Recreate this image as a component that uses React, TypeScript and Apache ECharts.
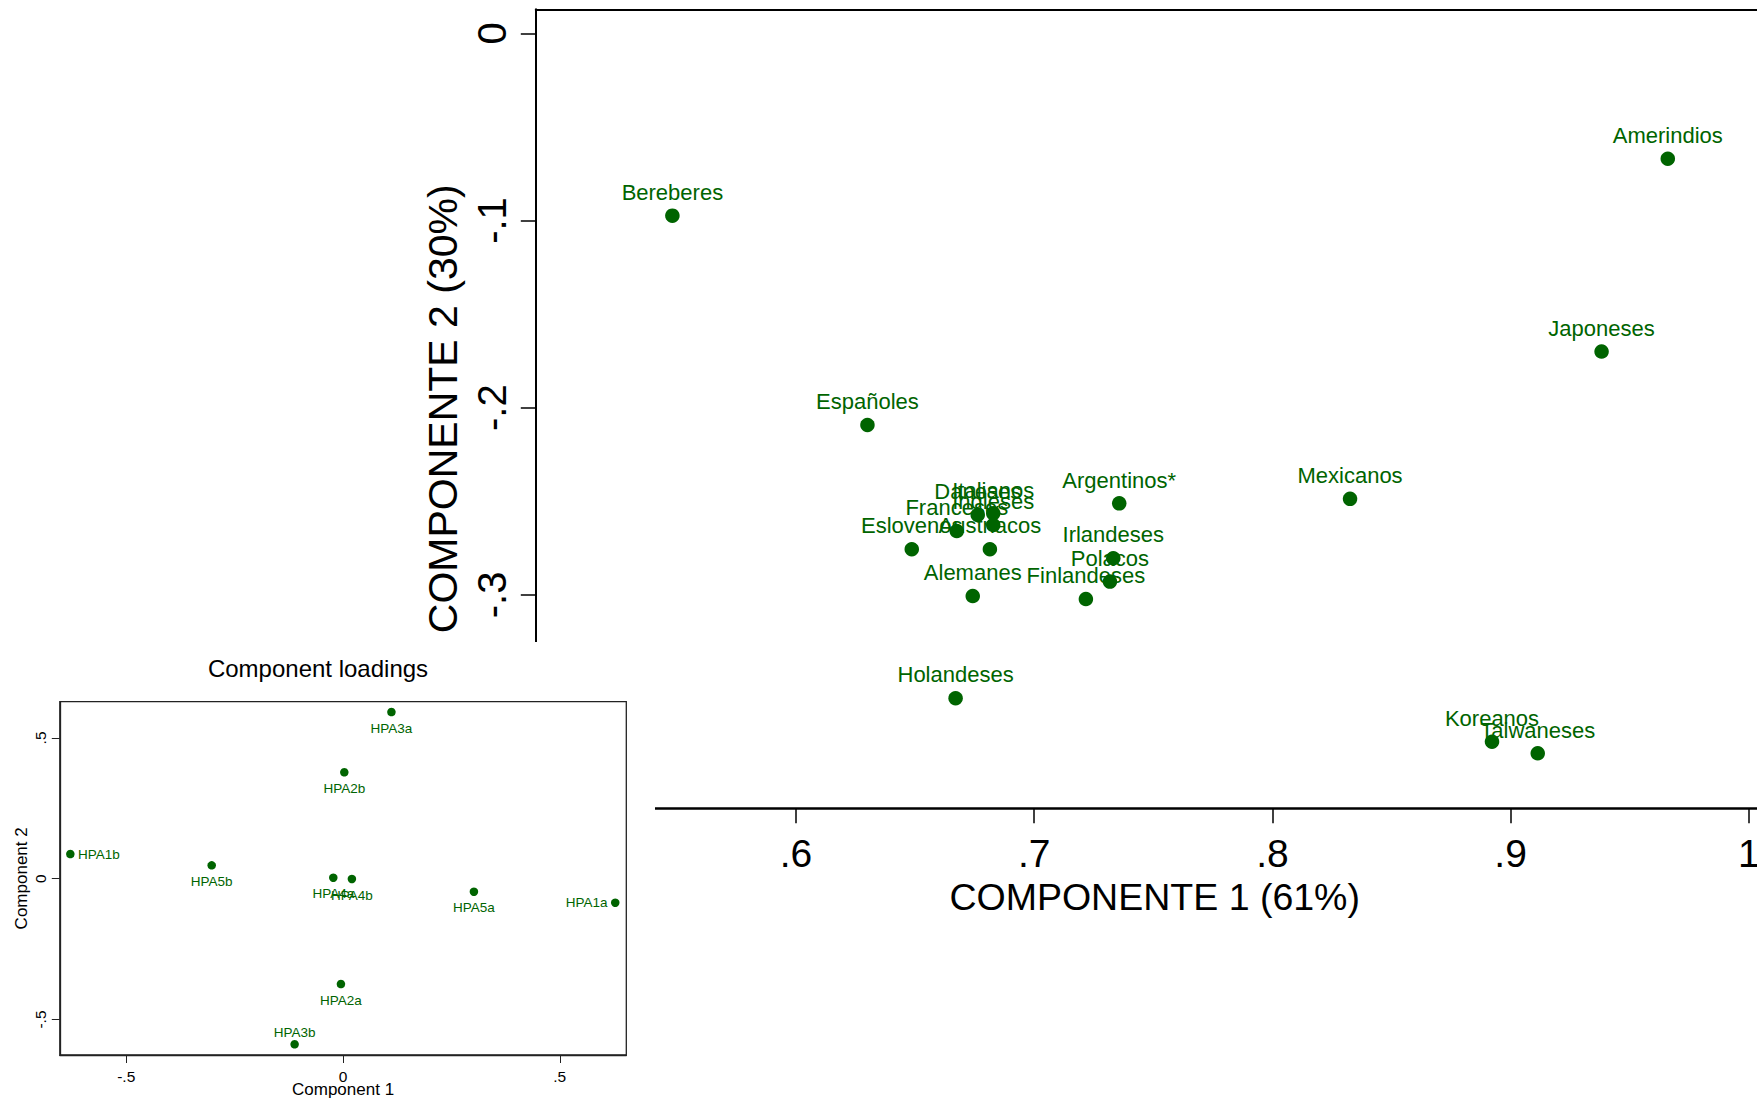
import React, { useEffect, useRef } from "react";
import * as echarts from "echarts";

// ---- Main chart data (PCA scores) ----
const countries = [
  "Bereberes", "Españoles", "Argentinos*", "Daneses", "Italianos", "Franceses",
  "Ingleses", "Eslovenos", "Austriacos", "Alemanes", "Finlandeses", "Irlandeses",
  "Polacos", "Holandeses", "Mexicanos", "Japoneses", "Amerindios", "Koreanos", "Taiwaneses",
];
const comp1 = [
  0.5481, 0.63, 0.7357, 0.6763, 0.6828, 0.6675,
  0.6828, 0.6486, 0.6814, 0.6742, 0.7217, 0.7332,
  0.7318, 0.667, 0.8326, 0.9382, 0.966, 0.8922, 0.9114,
];
const comp2 = [
  -0.0974, -0.2092, -0.2511, -0.2573, -0.2564, -0.2659,
  -0.2627, -0.2756, -0.2756, -0.3006, -0.3022, -0.2804,
  -0.2929, -0.3552, -0.2487, -0.17, -0.067, -0.3784, -0.3846,
];
const xTickValues = [0.6, 0.7, 0.8, 0.9, 1];
const xTickLabels = [".6", ".7", ".8", ".9", "1"];
const yTickValues = [0, -0.1, -0.2, -0.3];
const yTickLabels = ["0", "-.1", "-.2", "-.3"];

// ---- Inset data (component loadings) ----
const loadingNames = ["HPA1a", "HPA1b", "HPA2a", "HPA2b", "HPA3a", "HPA3b", "HPA4a", "HPA4b", "HPA5a", "HPA5b"];
const loading1 = [0.628, -0.629, -0.0048, 0.003, 0.1117, -0.1116, -0.0224, 0.0205, 0.302, -0.3029];
const loading2 = [-0.0852, 0.0877, -0.374, 0.378, 0.592, -0.588, 0.0036, -0.001, -0.0462, 0.0476];
const loadTickValues = [-0.5, 0, 0.5];
const loadTickLabels = ["-.5", "0", ".5"];

// label placement per loading (style)
const loadingLabelPlacement: Record<string, string> = {
  HPA1a: "left", HPA1b: "right", HPA3b: "top",
};

const GREEN = "#006400";
const FONT = "'Liberation Sans', Arial, Helvetica, sans-serif";

const fmt = (vals: number[], labels: string[]) => (v: number) => {
  const i = vals.findIndex((t) => Math.abs(t - v) < 1e-9);
  return i >= 0 ? labels[i] : "";
};

export default function App() {
  const mainRef = useRef<HTMLDivElement>(null);
  const insetRef = useRef<HTMLDivElement>(null);

  useEffect(() => {
    document.body.style.margin = "0";
    const main = echarts.init(mainRef.current!, null, { renderer: "svg" });
    const inset = echarts.init(insetRef.current!, null, { renderer: "svg" });

    main.setOption({
      animation: false,
      grid: { left: 535.8, top: 9.3, bottom: 291.7, right: -16.6, outerBoundsMode: "none", containLabel: false },
      xAxis: [
        {
          type: "value",
          min: 0.49076,
          max: 1.01042,
          position: "bottom",
          name: "COMPONENTE 1 (61%)",
          nameLocation: "middle",
          nameGap: 68,
          nameTextStyle: { color: "#000", fontSize: 37.5, fontFamily: FONT },
          axisLine: { show: true, onZero: false, lineStyle: { color: "#000", width: 2.5 } },
          axisTick: { show: true, length: 15, customValues: xTickValues, lineStyle: { color: "#000", width: 1.5 } },
          axisLabel: {
            customValues: xTickValues,
            formatter: fmt(xTickValues, xTickLabels),
            margin: 26,
            color: "#000",
            fontSize: 39,
            fontFamily: FONT,
          },
          splitLine: { show: false },
        },
        {
          type: "value",
          min: 0.49076,
          max: 1.01042,
          position: "top",
          axisLine: { show: true, onZero: false, lineStyle: { color: "#000", width: 2 } },
          axisTick: { show: false },
          axisLabel: { show: false },
          splitLine: { show: false },
        },
      ],
      yAxis: {
        type: "value",
        min: -0.414,
        max: 0.01282,
        name: "COMPONENTE 2 (30%)",
        nameLocation: "middle",
        nameGap: 67,
        nameTextStyle: { color: "#000", fontSize: 41, fontFamily: FONT },
        axisLine: { show: true, onZero: false, lineStyle: { color: "#000", width: 2 } },
        axisTick: { show: true, length: 15, customValues: yTickValues, lineStyle: { color: "#000", width: 1.5 } },
        axisLabel: {
          customValues: yTickValues,
          formatter: fmt(yTickValues, yTickLabels),
          rotate: 90,
          margin: 24,
          color: "#000",
          fontSize: 40,
          fontFamily: FONT,
        },
        splitLine: { show: false },
      },
      series: [
        {
          type: "scatter",
          xAxisIndex: 0,
          symbol: "circle",
          symbolSize: 14.5,
          itemStyle: { color: GREEN, opacity: 1 },
          label: {
            show: true,
            formatter: "{b}",
            position: "top",
            distance: 5,
            color: GREEN,
            fontSize: 22,
            fontFamily: FONT,
          },
          data: countries.map((n, i) => ({ name: n, value: [comp1[i], comp2[i]] })),
        },
      ],
    });

    inset.setOption({
      animation: false,
      graphic: [
        {
          type: "text",
          x: 318,
          y: 26,
          style: {
            text: "Component loadings",
            fill: "#000",
            font: `24px ${FONT}`,
            align: "center",
            verticalAlign: "middle",
          },
        },
      ],
      grid: {
        left: 59.8, top: 59.7, right: 28.7, bottom: 45,
        show: true, borderColor: "#222", borderWidth: 1.3, backgroundColor: "#fff",
        outerBoundsMode: "none", containLabel: false,
      },
      xAxis: {
        type: "value",
        min: -0.6533,
        max: 0.6535,
        name: "Component 1",
        nameLocation: "middle",
        nameGap: 26,
        nameMoveOverlap: false,
        nameTextStyle: { color: "#000", fontSize: 17, fontFamily: FONT },
        axisLine: { show: true, onZero: false, lineStyle: { color: "#222", width: 1.3 } },
        axisTick: { show: true, length: 8, customValues: loadTickValues, lineStyle: { color: "#222" } },
        axisLabel: {
          customValues: loadTickValues,
          formatter: fmt(loadTickValues, loadTickLabels),
          margin: 13,
          color: "#000",
          fontSize: 15.5,
          fontFamily: FONT,
        },
        splitLine: { show: false },
      },
      yAxis: {
        type: "value",
        min: -0.626,
        max: 0.6286,
        name: "Component 2",
        nameLocation: "middle",
        nameGap: 30,
        nameMoveOverlap: false,
        nameTextStyle: { color: "#000", fontSize: 17, fontFamily: FONT },
        axisLine: { show: true, onZero: false, lineStyle: { color: "#222", width: 1.3 } },
        axisTick: { show: true, length: 8, customValues: loadTickValues, lineStyle: { color: "#222" } },
        axisLabel: {
          customValues: loadTickValues,
          formatter: fmt(loadTickValues, loadTickLabels),
          rotate: 90,
          margin: 11,
          color: "#000",
          fontSize: 15.5,
          fontFamily: FONT,
        },
        splitLine: { show: false },
      },
      series: [
        {
          type: "scatter",
          symbol: "circle",
          symbolSize: 8.5,
          itemStyle: { color: GREEN, opacity: 1 },
          label: {
            show: true,
            formatter: "{b}",
            position: "bottom",
            distance: 5,
            color: GREEN,
            fontSize: 13.5,
            fontFamily: FONT,
          },
          data: loadingNames.map((n, i) => {
            const pos = loadingLabelPlacement[n];
            return {
              name: n,
              value: [loading1[i], loading2[i]],
              ...(pos ? { label: { position: pos, distance: pos === "top" ? 1 : 3.5 } } : {}),
            };
          }),
        },
      ],
    });

    return () => {
      main.dispose();
      inset.dispose();
    };
  }, []);

  return (
    <div style={{ position: "relative", width: 1757, height: 1100, overflow: "hidden", background: "#fff" }}>
      <div ref={mainRef} style={{ position: "absolute", left: 0, top: 0, width: 1757, height: 1100 }} />
      <div
        ref={insetRef}
        style={{ position: "absolute", left: 0, top: 642, width: 655, height: 458, background: "#fff", zIndex: 2 }}
      />
    </div>
  );
}
